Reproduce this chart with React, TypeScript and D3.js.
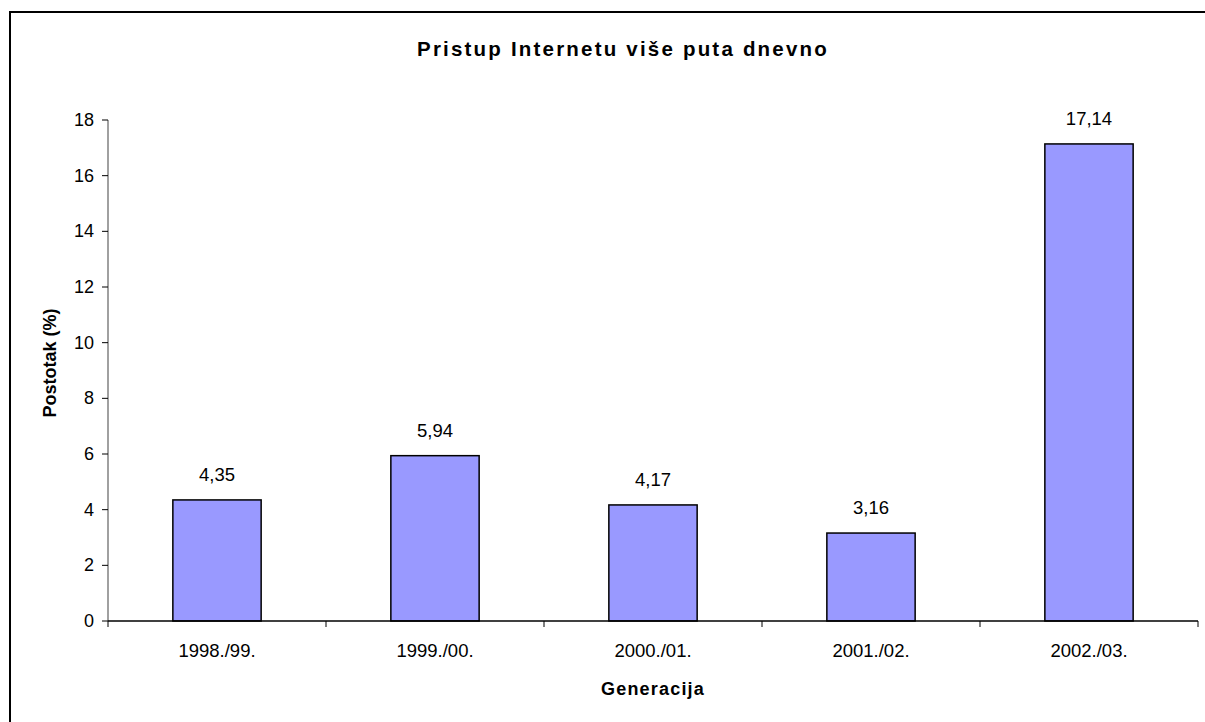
import React from 'react';
import * as d3 from 'd3';

const categories = ['1998./99.', '1999./00.', '2000./01.', '2001./02.', '2002./03.'];
const values = [4.35, 5.94, 4.17, 3.16, 17.14];
const yTicks = [0, 2, 4, 6, 8, 10, 12, 14, 16, 18];

const title = 'Pristup Internetu više puta dnevno';
const xTitle = 'Generacija';
const yTitle = 'Postotak (%)';

const W = 1205;
const H = 722;
const font = 'Liberation Sans, Arial, sans-serif';

const App: React.FC = () => {
  const left = 108;
  const right = 1198;
  const top = 120;
  const bottom = 621;

  const x = d3.scaleBand<string>().domain(categories).range([left, right]).paddingInner(0).paddingOuter(0);
  const y = d3.scaleLinear().domain([0, 18]).range([bottom, top]);
  const barW = x.bandwidth() * 0.405;
  const fmt = (v: number) => v.toFixed(2).replace('.', ',');

  return (
    <svg width={W} height={H} style={{ position: 'absolute', left: 0, top: 0, background: '#fff' }}>
      <rect x={0} y={0} width={W} height={H} fill="#fff" />
      {/* chart frame, right/bottom edges cut off */}
      <rect x={10} y={12} width={W + 20} height={H + 20} fill="none" stroke="#000" strokeWidth={2} />

      <text x={623} y={56} textAnchor="middle" fontFamily={font} fontWeight="bold" fontSize={20.5} letterSpacing={2.2} fill="#000">
        {title}
      </text>

      {/* y axis */}
      <line x1={left} x2={left} y1={top} y2={bottom} stroke="#808080" strokeWidth={1.5} />
      {yTicks.map(t => (
        <g key={t}>
          <line x1={left - 6} x2={left} y1={y(t)} y2={y(t)} stroke="#000" strokeWidth={1} />
          <text x={94} y={y(t) + 6} textAnchor="end" fontFamily={font} fontSize={18} fill="#000">
            {t}
          </text>
        </g>
      ))}

      {/* bars */}
      {categories.map((c, i) => {
        const cx = (x(c) as number) + x.bandwidth() / 2;
        return (
          <g key={c}>
            <rect
              x={cx - barW / 2}
              y={y(values[i])}
              width={barW}
              height={bottom - y(values[i])}
              fill="#9999FF"
              stroke="#000"
              strokeWidth={1.5}
            />
            <text x={cx} y={y(values[i]) - 19} textAnchor="middle" fontFamily={font} fontSize={18.5} fill="#000">
              {fmt(values[i])}
            </text>
            <text x={cx} y={bottom + 36} textAnchor="middle" fontFamily={font} fontSize={18.5} fill="#000">
              {c}
            </text>
          </g>
        );
      })}

      {/* x axis */}
      <line x1={left} x2={right} y1={bottom} y2={bottom} stroke="#000" strokeWidth={1.5} />
      {d3.range(categories.length + 1).map(i => {
        const px = left + i * x.bandwidth();
        return <line key={i} x1={px} x2={px} y1={bottom} y2={bottom + 6} stroke="#000" strokeWidth={1} />;
      })}

      <text x={653} y={695} textAnchor="middle" fontFamily={font} fontWeight="bold" fontSize={18} letterSpacing={1.2} fill="#000">
        {xTitle}
      </text>
      <text
        transform={`translate(56, 363) rotate(-90)`}
        textAnchor="middle"
        fontFamily={font}
        fontWeight="bold"
        fontSize={18}
        fill="#000"
      >
        {yTitle}
      </text>
    </svg>
  );
};

export default App;
